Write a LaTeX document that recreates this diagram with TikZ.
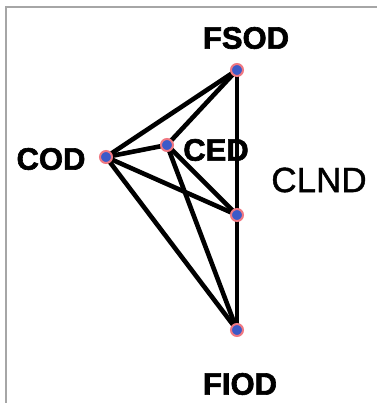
\documentclass[tikz,border=0pt]{standalone}
\usepackage{fontspec}
\setmainfont{Liberation Sans}
\newfontfamily\heavyfont[FakeBold=2]{Liberation Sans Bold}
\newfontfamily\medfont[FakeBold=1.2]{Liberation Sans}
\begin{document}
\begin{tikzpicture}[x=1pt,y=-1pt,
  edge/.style={line width=4.6pt,black,line cap=round},
  dot/.style={circle,fill={rgb,255:red,60;green,90;blue,200},draw={rgb,255:red,240;green,120;blue,130},line width=2pt,minimum size=12pt,inner sep=0pt},
  blab/.style={font=\fontsize{31}{31}\selectfont\heavyfont,inner sep=0pt},
  rlab/.style={font=\fontsize{35}{35}\selectfont\medfont,inner sep=0pt}]
\useasboundingbox (0,0) rectangle (377,403);
\fill[white] (0,0) rectangle (377,403);
\draw[gray!70,line width=1.2pt] (6,403) -- (6,7) -- (377,7);
\coordinate (fsod) at (237,70);
\coordinate (cod) at (106,157);
\coordinate (ced) at (167,145);
\coordinate (clnd) at (237,215);
\coordinate (fiod) at (237,330);
\draw[edge] (fsod) -- (cod);
\draw[edge] (fsod) -- (ced);
\draw[edge] (fsod) -- (clnd);
\draw[edge] (clnd) -- (fiod);
\draw[edge] (cod) -- (ced);
\draw[edge] (cod) -- (clnd);
\draw[edge] (cod) -- (fiod);
\draw[edge] (ced) -- (clnd);
\draw[edge] (ced) -- (fiod);
\node[dot] (nfsod) at (fsod) {};
\node[dot] (ncod) at (cod) {};
\node[dot] (nced) at (ced) {};
\node[dot] (nclnd) at (clnd) {};
\node[dot] (nfiod) at (fiod) {};
\node[blab] (lfsod) at (246,38) {FSOD};
\node[blab] (lcod) at (51,159) {COD};
\node[blab] (lced) at (216,150) {CED};
\node[rlab] (lclnd) at (319,180) {CLND};
\node[blab] (lfiod) at (240,384) {FIOD};
\end{tikzpicture}
\end{document}
